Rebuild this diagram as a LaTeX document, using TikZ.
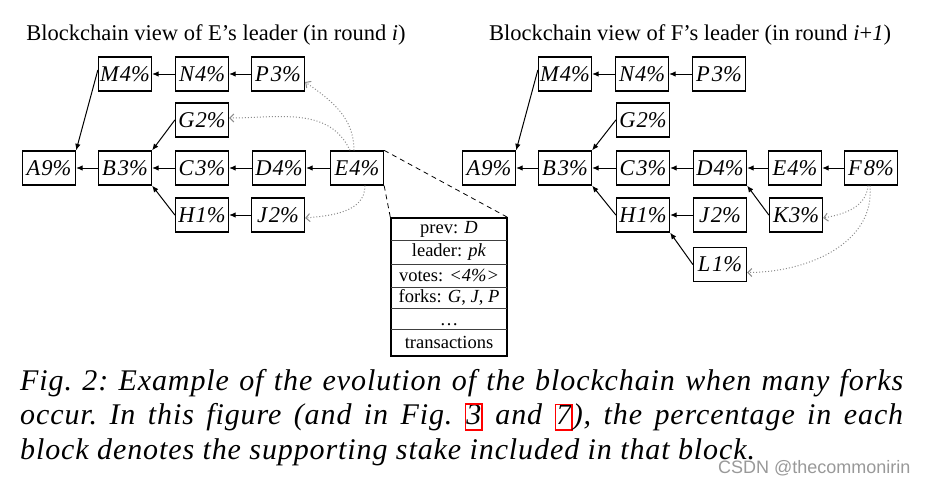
\documentclass[tikz,border=0pt]{standalone}
\usepackage{fontspec}
\setmainfont{Liberation Serif}
\setsansfont{Liberation Sans}
\newfontfamily\capfont{Liberation Serif}[LetterSpace=3]
\usetikzlibrary{arrows.meta}
\newcommand\refbox[1]{{\color{red}\setlength\fboxrule{1.6pt}\setlength\fboxsep{0pt}\fbox{\color{black}\rule[-4.5pt]{0pt}{24pt}#1}}}
\begin{document}
\begin{tikzpicture}[x=1pt,y=1pt,
  blk/.style={draw, line width=1.3pt, minimum width=53pt, minimum height=34pt, inner sep=0pt,
    font=\fontsize{22.5}{24}\selectfont\itshape},
  ttl/.style={font=\fontsize{22.5}{26}\selectfont, anchor=base, inner sep=0pt},
  arr/.style={-{Latex[length=6.5pt,width=5.5pt]}, line width=1pt},
  dotarr/.style={-{Straight Barb[length=4pt,width=8pt]}, black!45, dotted, line width=1pt},
  dsh/.style={dash pattern=on 5pt off 4pt, line width=0.8pt},
  row/.style={font=\fontsize{18.5}{21}\selectfont, inner sep=0pt, anchor=center},
  sep/.style={line width=0.8pt, black!75}
]
\fill[white] (0,0) rectangle (925,-483);
\useasboundingbox (0,0) rectangle (925,-483);

% ---------- Left view ----------
\node[ttl] (t1) at (216,-40) {Blockchain view of E’s leader (in round \textit{i})};
\node[blk] (lM) at (125,-74) {M\kern1pt4\%};
\node[blk] (lN) at (202,-74) {N\kern1pt4\%};
\node[blk] (lP) at (278,-74) {P\kern2pt3\%};
\node[blk] (lG) at (202,-120) {G\kern1pt2\%};
\node[blk] (lA) at (49,-168) {A\kern1pt9\%};
\node[blk] (lB) at (125,-168) {B\kern2pt3\%};
\node[blk] (lC) at (202,-168) {C\kern2pt3\%};
\node[blk] (lD) at (279,-168) {D\kern1pt4\%};
\node[blk] (lE) at (357,-168) {E\kern1pt4\%};
\node[blk] (lH) at (202,-215) {H\kern1pt1\%};
\node[blk] (lJ) at (278,-215) {J\kern2pt2\%};

\draw[arr] (lB.west) -- (lA.east);
\draw[arr] (lC.west) -- (lB.east);
\draw[arr] (lD.west) -- (lC.east);
\draw[arr] (lE.west) -- (lD.east);
\draw[arr] (lN.west) -- (lM.east);
\draw[arr] (lP.west) -- (lN.east);
\draw[arr] (lJ.west) -- (lH.east);
\draw[arr] ([yshift=4pt]lM.west) -- (lA.north east);
\draw[arr] (lG.west) -- (lB.north east);
\draw[arr] (lH.west) -- (lB.south east);

\draw[dotarr] ([xshift=-3pt]lE.north) to[out=90, in=-35] ([yshift=-8pt]lP.east);
\draw[dotarr] ([xshift=-7pt]lE.north) to[out=115, in=0] ([yshift=2pt]lG.east);
\draw[dotarr] ([xshift=8pt]lE.south) to[out=-90, in=5] ([yshift=-3pt]lJ.east);

% ---------- Block detail ----------
\node[draw, line width=1.3pt, minimum width=116pt, minimum height=138pt, inner sep=0pt] (det) at (449,-287) {};
\draw[sep] (391,-240) -- (507,-240);
\draw[sep] (391,-264) -- (507,-264);
\draw[sep] (391,-287) -- (507,-287);
\draw[sep] (391,-308) -- (507,-308);
\draw[sep] (391,-329) -- (507,-329);
\node[row] (r1) at (449,-229) {prev: \textit{D}};
\node[row] (r2) at (449,-252) {leader: \textit{pk}};
\node[row] (r3) at (449,-275.5) {votes: \textit{<4\%>}};
\node[row] (r4) at (449,-297.5) {forks: \textit{G}, \textit{J}, \textit{P}};
\node[row, anchor=base] (r5) at (449,-325) {\dots};
\node[row] (r6) at (449,-342.5) {transactions};
\draw[dsh] (lE.north east) -- (det.north east);
\draw[dsh] (lE.south east) -- (det.north west);

% ---------- Right view ----------
\node[ttl] (t2) at (690,-40) {Blockchain view of F’s leader (in round \textit{i}+\textit{1})};
\node[blk] (rM) at (565,-74) {M\kern1pt4\%};
\node[blk] (rN) at (642,-74) {N\kern1pt4\%};
\node[blk] (rP) at (719,-74) {P\kern2pt3\%};
\node[blk] (rG) at (643,-120) {G\kern1pt2\%};
\node[blk] (rA) at (489,-168) {A\kern1pt9\%};
\node[blk] (rB) at (565,-168) {B\kern2pt3\%};
\node[blk] (rC) at (643,-168) {C\kern2pt3\%};
\node[blk] (rD) at (720,-168) {D\kern1pt4\%};
\node[blk] (rE) at (795,-168) {E\kern1pt4\%};
\node[blk] (rF) at (871,-168) {F\kern2pt8\%};
\node[blk] (rH) at (643,-215) {H\kern1pt1\%};
\node[blk] (rJ) at (720,-215) {J\kern2pt2\%};
\node[blk] (rK) at (796,-215) {K\kern1pt3\%};
\node[blk] (rL) at (720,-264.5) {L\kern2pt1\%};

\draw[arr] (rB.west) -- (rA.east);
\draw[arr] (rC.west) -- (rB.east);
\draw[arr] (rD.west) -- (rC.east);
\draw[arr] (rE.west) -- (rD.east);
\draw[arr] (rF.west) -- (rE.east);
\draw[arr] (rN.west) -- (rM.east);
\draw[arr] (rP.west) -- (rN.east);
\draw[arr] (rJ.west) -- (rH.east);
\draw[arr] ([yshift=4pt]rM.west) -- (rA.north east);
\draw[arr] (rG.west) -- (rB.north east);
\draw[arr] (rH.west) -- (rB.south east);
\draw[arr] (rK.west) -- (rD.south east);
\draw[arr] (rL.west) -- (rH.south east);

\draw[dotarr] ([xshift=-3pt]rF.south) to[out=-95, in=10] ([yshift=-3pt]rK.east);
\draw[dotarr] ([xshift=-1pt]rF.south) to[out=-85, in=0] ([yshift=-8pt]rL.east);

% ---------- Caption ----------
\node[anchor=north west, inner sep=0pt, text width=883pt, align=justify,
  font=\capfont\fontsize{30}{34.5}\selectfont\itshape] (cap) at (20,-369)
  {\frenchspacing\hyphenpenalty=10000 Fig. 2: Example of the evolution of the blockchain when many forks\linebreak
   occur. In this figure (and in Fig. \refbox{3} and \refbox{7}), the percentage in each\linebreak
   block denotes the supporting stake included in that block.};
\node[anchor=base west, inner sep=0pt, text=black!40, font=\sffamily\fontsize{18}{20}\selectfont] (wm) at (718,-473) {CSDN @thecommonirin};
\end{tikzpicture}
\end{document}
